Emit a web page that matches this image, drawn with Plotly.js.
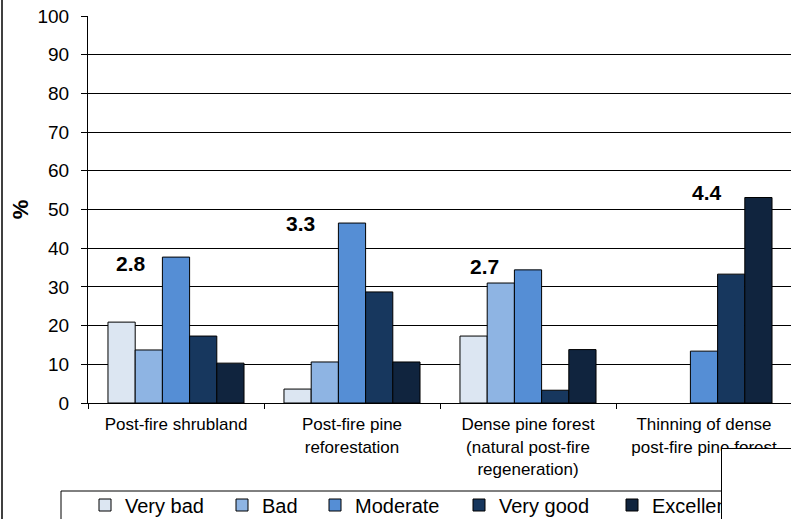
<!DOCTYPE html>
<html>
<head>
<meta charset="utf-8">
<script src="https://cdn.plot.ly/plotly-3.0.1.min.js"></script>
<style>html,body{margin:0;padding:0;background:#fff;}#chart{width:791px;height:519px;}</style>
</head>
<body>
<div id="chart"></div>
<script>
// ---- data ----
const categories = [
  "Post-fire shrubland",
  "Post-fire pine<br>reforestation",
  "Dense pine forest<br>(natural post-fire<br>regeneration)",
  "Thinning of dense<br>post-fire pine forest"
];
const seriesNames = ["Very bad", "Bad", "Moderate", "Very good", "Excellent"];
const veryBad   = [20.9, 3.6, 17.3, 0];
const bad       = [13.7, 10.6, 31.0, 0];
const moderate  = [37.7, 46.5, 34.4, 13.4];
const veryGood  = [17.3, 28.7, 3.3, 33.3];
const excellent = [10.3, 10.6, 13.8, 53.1];
const meanScores = ["2.8", "3.3", "2.7", "4.4"];
const yTicks = [0,10,20,30,40,50,60,70,80,90,100];

// ---- style ----
const colors = ["#dce6f2", "#8eb4e3", "#558ed5", "#17375e", "#10243e"];
const font = "Liberation Sans, Arial, sans-serif";
const series = [veryBad, bad, moderate, veryGood, excellent];

// pixel helpers for paper placement (plot area: x 88..791, y 16..403)
const PX = px => (px - 88) / 703;
const PY = py => (403 - py) / 387;

const legendLeft = [85, 222, 315, 459, 612];
const legendNames = ["legend", "legend2", "legend3", "legend4", "legend5"];

const traces = series.map((vals, k) => ({
  type: "bar",
  name: seriesNames[k],
  x: categories,
  y: vals,
  legend: legendNames[k],
  marker: {color: colors[k], line: {color: "#000", width: vals.map(v => v > 0 ? 1 : 0)}},
  hoverinfo: "skip"
}));

// label placement (layout only)
const labelDx = [-0.257, -0.293, -0.25, 0.018];
const labelY  = [36.0, 46.5, 35.2, 54.4];

const annotations = meanScores.map((s, i) => ({
  xref: "x", yref: "y", x: i + labelDx[i], y: labelY[i],
  text: "<b>" + s + "</b>", showarrow: false,
  font: {family: font, size: 21, color: "#000"}
}));
// white cover box bottom right
annotations.push({
  xref: "paper", yref: "paper", x: PX(721), y: PY(448),
  xanchor: "left", yanchor: "top", text: " ", showarrow: false,
  width: 120, height: 120, bgcolor: "#fff", bordercolor: "#000", borderwidth: 1,
  align: "left"
});

const layout = {
  width: 791, height: 519,
  margin: {l: 88, r: 0, t: 16, b: 116, autoexpand: false},
  paper_bgcolor: "#fff", plot_bgcolor: "#fff",
  font: {family: font, color: "#000"},
  barmode: "group",
  bargap: 0.227, bargroupgap: 0,
  showlegend: true,
  xaxis: {
    type: "category", range: [-0.5, -0.5 + (791 - 88) / 176],
    showgrid: false, zeroline: false,
    showline: true, linecolor: "#000", linewidth: 1,
    ticks: "outside", tickson: "boundaries", ticklen: 5, tickcolor: "#000",
    tickfont: {family: font, size: 17, color: "#000"},
    ticklabelstandoff: 6,
    fixedrange: true
  },
  yaxis: {
    range: [0, 100], tickmode: "array", tickvals: yTicks,
    showgrid: true, gridcolor: "#000", gridwidth: 1,
    zeroline: false, showline: true, linecolor: "#000", linewidth: 1,
    ticks: "outside", ticklen: 6, tickcolor: "#000",
    tickfont: {family: font, size: 19, color: "#000"},
    ticklabelstandoff: 8,
    title: {text: "<b>%</b>", font: {family: font, size: 22, color: "#000"}, standoff: 2},
    fixedrange: true
  },
  shapes: [
    // legend frame
    {type: "rect", xref: "paper", yref: "paper", x0: PX(61), x1: PX(900), y0: PY(491), y1: PY(640),
      fillcolor: "#fff", line: {color: "#000", width: 1}, layer: "below"},
    // outer frame left edge
    {type: "line", xref: "paper", yref: "paper", x0: PX(2), x1: PX(2),
      y0: -1, y1: 2, line: {color: "#000", width: 1.5}}
  ],
  annotations: annotations
};

legendNames.forEach((ln, k) => {
  layout[ln] = {
    orientation: "h", x: PX(legendLeft[k]), xanchor: "left",
    y: PY(505), yanchor: "middle",
    bgcolor: "rgba(0,0,0,0)", borderwidth: 0,
    font: {family: font, size: 20, color: "#000"}
  };
});

Plotly.newPlot("chart", traces, layout, {displayModeBar: false, staticPlot: true});
</script>
</body>
</html>
